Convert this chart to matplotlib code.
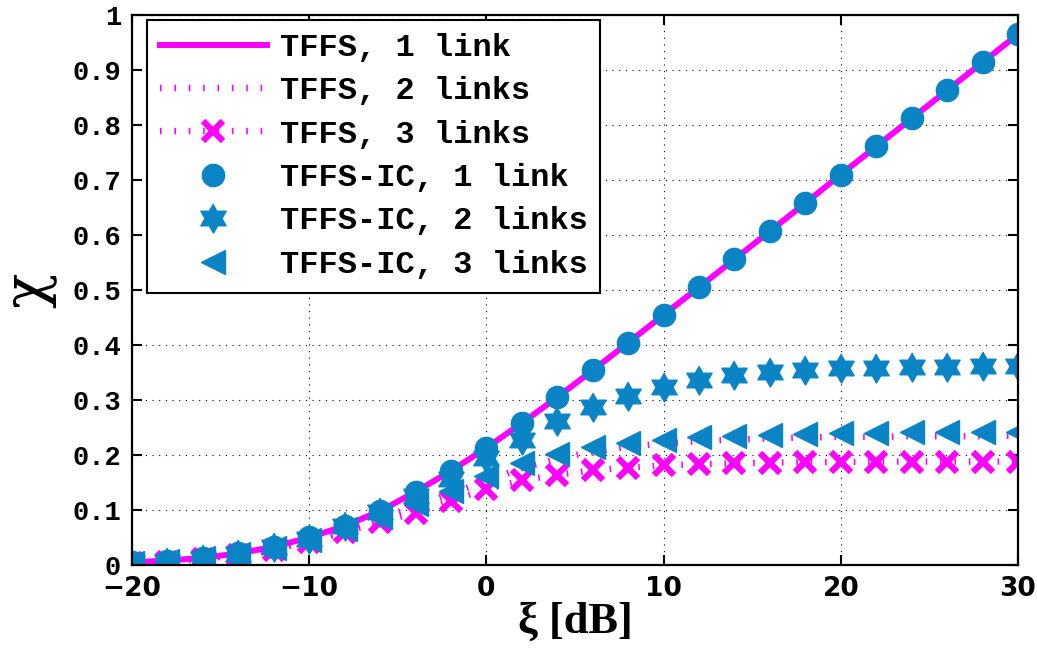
import matplotlib
matplotlib.use('Agg')
import matplotlib.pyplot as plt
import numpy as np
from matplotlib.path import Path

# --- data ---
xi_db = [-20, -18, -16, -14, -12, -10, -8, -6, -4, -2, 0, 2, 4,
         6, 8, 10, 12, 14, 16, 18, 20, 22, 24, 26, 28, 30]

tffs_1 = [0.005, 0.008, 0.013, 0.021, 0.033, 0.050, 0.071, 0.098, 0.133, 0.171, 0.213, 0.258, 0.305,
          0.354, 0.404, 0.455, 0.505, 0.556, 0.607, 0.658, 0.710, 0.761, 0.812, 0.863, 0.914, 0.965]
tffs_2 = [0.004, 0.007, 0.011, 0.019, 0.030, 0.044, 0.063, 0.085, 0.107, 0.130, 0.153, 0.176, 0.193,
          0.206, 0.215, 0.221, 0.225, 0.228, 0.230, 0.232, 0.233, 0.233, 0.234, 0.234, 0.234, 0.235]
tffs_3 = [0.004, 0.006, 0.011, 0.018, 0.028, 0.042, 0.060, 0.078, 0.095, 0.117, 0.138, 0.154, 0.164,
          0.172, 0.177, 0.181, 0.183, 0.185, 0.186, 0.187, 0.187, 0.188, 0.188, 0.188, 0.188, 0.188]
ic_1 = tffs_1
ic_2 = [0.004, 0.006, 0.011, 0.020, 0.032, 0.048, 0.070, 0.097, 0.126, 0.157, 0.195, 0.228, 0.261,
        0.287, 0.308, 0.324, 0.336, 0.345, 0.351, 0.355, 0.358, 0.359, 0.360, 0.360, 0.361, 0.362]
ic_3 = [0.004, 0.007, 0.012, 0.020, 0.031, 0.046, 0.066, 0.088, 0.110, 0.135, 0.162, 0.186, 0.201,
        0.214, 0.222, 0.228, 0.232, 0.235, 0.237, 0.239, 0.240, 0.240, 0.241, 0.241, 0.241, 0.242]

labels = ['TFFS, 1 link', 'TFFS, 2 links', 'TFFS, 3 links',
          'TFFS-IC, 1 link', 'TFFS-IC, 2 links', 'TFFS-IC, 3 links']
xticks = [-20, -10, 0, 10, 20, 30]
yticks = [0, 0.1, 0.2, 0.3, 0.4, 0.5, 0.6, 0.7, 0.8, 0.9, 1]
ytick_labels = ['0', '0.1', '0.2', '0.3', '0.4', '0.5', '0.6', '0.7', '0.8', '0.9', '1']

magenta = '#ff00ff'
blue = '#0b84c6'

# hexagram marker (matlab style)
ang = np.pi / 2 + np.arange(12) * np.pi / 6
rad = np.where(np.arange(12) % 2 == 0, 1.0, 1 / np.sqrt(3))
hexagram = Path(np.column_stack([rad * np.cos(ang), rad * np.sin(ang)]))

fig = plt.figure(figsize=(10.37, 6.53), dpi=100)
ax = fig.add_axes([0.1273, 0.1348, 0.8544, 0.8422])

dots = (0, (0.25, 2.0))
ax.plot(xi_db, tffs_1, color=magenta, lw=4.3, label=labels[0])
ax.plot(xi_db, tffs_2, color=magenta, lw=4.6, linestyle=dots, dash_capstyle='butt', label=labels[1])
ax.plot(xi_db, tffs_3, color=magenta, lw=4.6, linestyle=dots, dash_capstyle='butt',
        marker='x', ms=14, mew=4.5, label=labels[2])
ax.plot(xi_db, ic_1, linestyle='none', marker='o', ms=16, color=blue, label=labels[3])
ax.plot(xi_db, ic_2, linestyle='none', marker=hexagram, ms=21, color=blue, label=labels[4])
ax.plot(xi_db, ic_3, linestyle='none', marker='<', ms=17, color=blue, label=labels[5])

ax.set_xlim(-20, 30)
ax.set_ylim(0, 1)
ax.set_xticks(xticks)
ax.set_yticks(yticks)
ax.set_yticklabels(ytick_labels)
ax.grid(True, color='black', linestyle=(0, (1, 5)), lw=0.8)
ax.tick_params(direction='in', length=7, width=1.5, top=True, right=True, pad=8)
for t in ax.get_xticklabels():
    t.set_fontfamily('DejaVu Sans')
    t.set_fontweight('bold')
    t.set_fontsize(19)
for t in ax.get_yticklabels():
    t.set_fontfamily('Liberation Mono')
    t.set_fontweight('bold')
    t.set_fontsize(19.5)
for s in ax.spines.values():
    s.set_linewidth(1.6)

ax.set_xlabel('ξ [dB]', fontfamily='Liberation Serif', fontweight='bold',
              fontsize=32, labelpad=0)
ax.set_ylabel('χ', fontfamily='DejaVu Serif', fontsize=42)
ax.yaxis.set_label_coords(-0.085, 0.5)

leg = ax.legend(loc='upper left', bbox_to_anchor=(0.017, 0.991), borderaxespad=0,
                prop={'family': 'Liberation Mono', 'weight': 'bold', 'size': 23},
                numpoints=1, handlelength=3.35, labelspacing=0.42, fancybox=False,
                edgecolor='black', framealpha=1, borderpad=0.4, handletextpad=0.4)
leg.get_frame().set_linewidth(1.5)

fig.savefig('out.png', dpi=100)
